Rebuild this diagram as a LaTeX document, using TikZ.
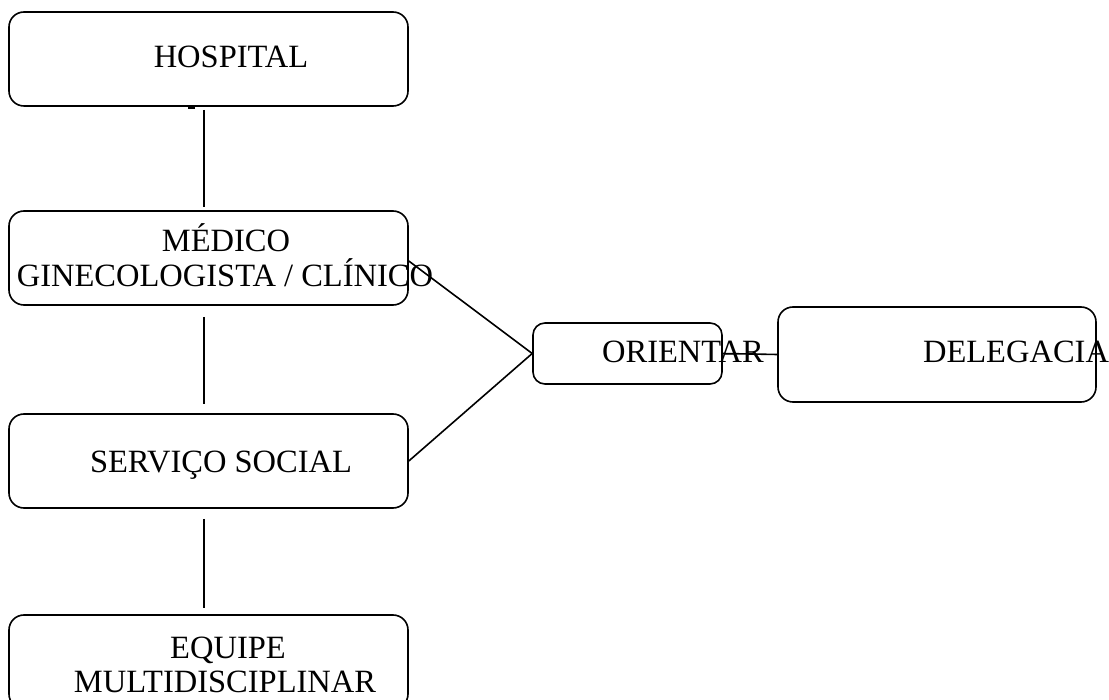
\documentclass[tikz,border=0pt]{standalone}
\usepackage{fontspec}
\setmainfont{Liberation Serif}
\begin{document}
\begin{tikzpicture}[x=1pt,y=-1pt,
  boxst/.style={draw,line width=1.6pt,rounded corners=15pt,inner sep=0pt},
  lbl/.style={anchor=base,inner sep=0pt,font=\fontsize{32.5}{35}\selectfont},
  conn/.style={line width=1.6pt}]
\clip (0,0) rectangle (1109,700);
\fill[white] (0,0) rectangle (1109,700);
% boxes
\node[boxst,minimum width=399pt,minimum height=94pt] (hos) at (208.5,59) {};
\node[boxst,minimum width=399pt,minimum height=94pt] (med) at (208.5,258) {};
\node[boxst,minimum width=399pt,minimum height=94pt] (ser) at (208.5,461) {};
\node[boxst,minimum width=399pt,minimum height=94pt] (equ) at (208.5,662) {};
\node[boxst,rounded corners=12pt,minimum width=189pt,minimum height=61pt] (ori) at (627.5,353.5) {};
\node[boxst,minimum width=318pt,minimum height=95pt] (del) at (937,354.5) {};
% texts
\node[lbl] (hosT) at (231,68) {HOSPITAL};
\node[lbl] (medT1) at (226,252) {MÉDICO};
\node[lbl] (medT2) at (225,287) {GINECOLOGISTA / CLÍNICO};
\node[lbl] (serT) at (221,473) {SERVIÇO SOCIAL};
\node[lbl] (equT1) at (228,658) {EQUIPE};
\node[lbl] (equT2) at (225,692) {MULTIDISCIPLINAR};
\node[lbl] (oriT) at (683,363) {ORIENTAR};
\node[lbl] (delT) at (1016,363) {DELEGACIA};
% connectors
\draw[conn] ([shift={(-4.5,3)}]hos.south) -- ([shift={(-4.5,-3)}]med.north);
\draw[conn] ([shift={(-4.5,11)}]med.south) -- ([shift={(-4.5,-9)}]ser.north);
\draw[conn] ([shift={(-4.5,10)}]ser.south) -- ([shift={(-4.5,-6)}]equ.north);
\draw[conn] ([yshift=-3]med.east) -- (ori.west);
\draw[conn] (ser.east) -- (ori.west);
\draw[conn] (ori.east) -- (del.west);
% small mark under HOSPITAL
\coordinate (mkA) at (188,108);
\coordinate (mkB) at (195,108);
\draw[line width=2pt] (mkA) -- (mkB);
\end{tikzpicture}
\end{document}
